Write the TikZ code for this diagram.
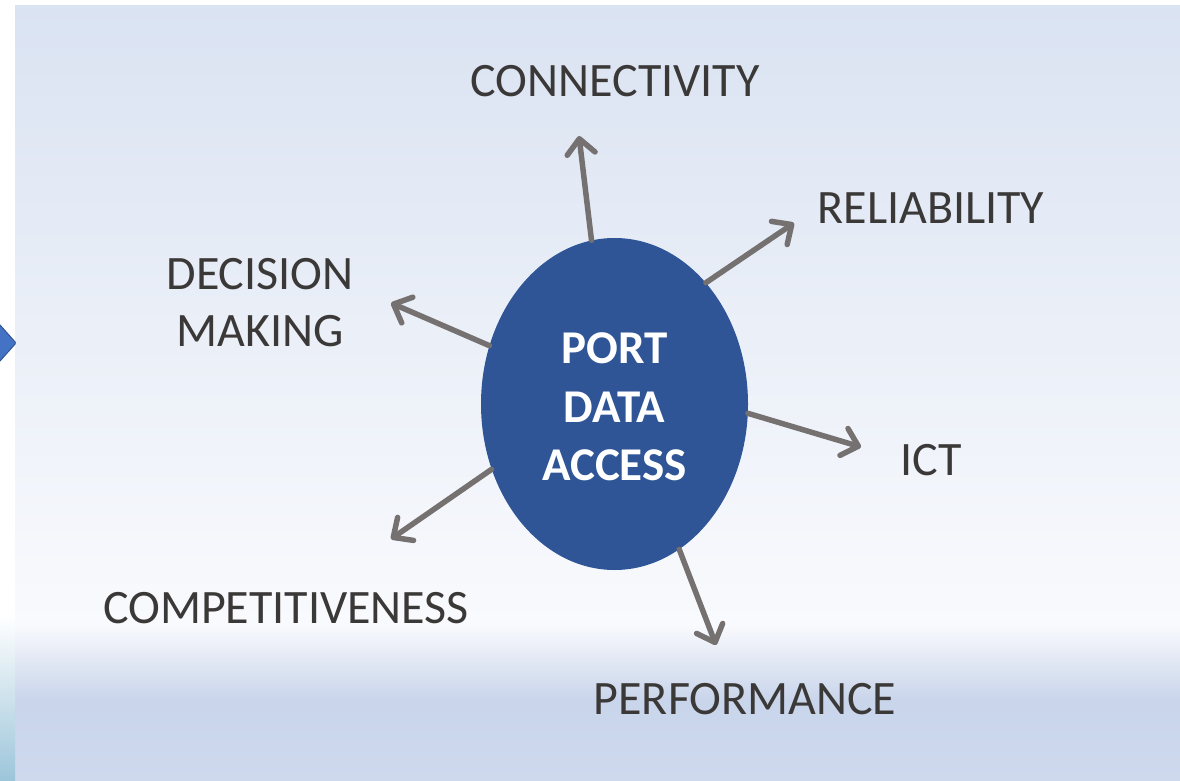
\documentclass[tikz,border=0pt]{standalone}
\usepackage{fontspec}
\setmainfont{Carlito}
\usetikzlibrary{arrows.meta,shapes.geometric}
\definecolor{coreblue}{HTML}{2F5597}
\definecolor{arrowgray}{HTML}{767171}
\definecolor{txtgray}{HTML}{3B3838}
\definecolor{bgtop}{HTML}{DAE3F2}
\definecolor{bgmid}{HTML}{F9FAFD}
\definecolor{bglow}{HTML}{C9D5EB}
\definecolor{bgbot}{HTML}{CED9EE}
\definecolor{stripbot}{HTML}{9CC5DA}
\definecolor{diafill}{HTML}{4472C4}
\begin{document}
\begin{tikzpicture}[x=1pt,y=-1pt,
  arr/.style={draw=arrowgray, line width=5.5pt, line cap=round,
    -{Straight Barb[length=15pt,width=28pt,line cap=round,line join=round]}},
  lbl/.style={text=txtgray, font=\fontsize{48}{57}\selectfont, inner sep=0pt, anchor=center, align=center},
  corestyle/.style={ellipse, fill=coreblue, minimum width=267pt, minimum height=332pt, inner sep=0pt},
  coretxt/.style={text=white, font=\bfseries\fontsize{47}{58.5}\selectfont, align=center, inner sep=0pt}]
\useasboundingbox (0,0) rectangle (1180,781);
% background panel
\fill[white] (0,0) rectangle (1180,781);
\shade[top color=bgtop, bottom color=bgmid] (15,6) rectangle (1180,624);
\shade[top color=bgmid, bottom color=bglow] (15,624) rectangle (1180,700);
\shade[top color=bglow, bottom color=bgbot] (15,700) rectangle (1180,781);
% left strip
\shade[top color=white, bottom color=stripbot] (0,615) rectangle (15,781);
% diamond fragment
\begin{scope}
  \clip (0,300) rectangle (15.5,390);
  \filldraw[fill=diafill, draw=coreblue, line width=1pt] (-20,343) -- (0,325) -- (16,343) -- (0,361) -- cycle;
\end{scope}
% core
\node[corestyle] (core) at (614.5,404) {};
\node[coretxt] (coretext) at (614.5,407) {PORT\\DATA\\ACCESS};
% labels
\node[lbl] (conn) at (615,81) {CONNECTIVITY};
\node[lbl] (rel) at (931,208) {RELIABILITY};
\node[lbl] (ict) at (931,460) {ICT};
\node[lbl] (perf) at (745,699) {PERFORMANCE};
\node[lbl] (comp) at (286,608) {COMPETITIVENESS};
\node[lbl] (dec) at (260,303) {DECISION\\MAKING};
% arrow tips
\coordinate (tconn) at (579,136);
\coordinate (trel) at (794,223);
\coordinate (tict) at (861,447);
\coordinate (tperf) at (716,645);
\coordinate (tcomp) at (391,539);
\coordinate (tdec) at (391,303);
% arrows
\draw[arr] (core.98.7) -- (tconn);
\draw[arr] (core.53.6) -- (trel);
\draw[arr] (core.-4.7) -- (tict);
\draw[arr] (core.-66.5) -- (tperf);
\draw[arr] (core.208.8) -- (tcomp);
\draw[arr] (core.155.4) -- (tdec);
\end{tikzpicture}
\end{document}
